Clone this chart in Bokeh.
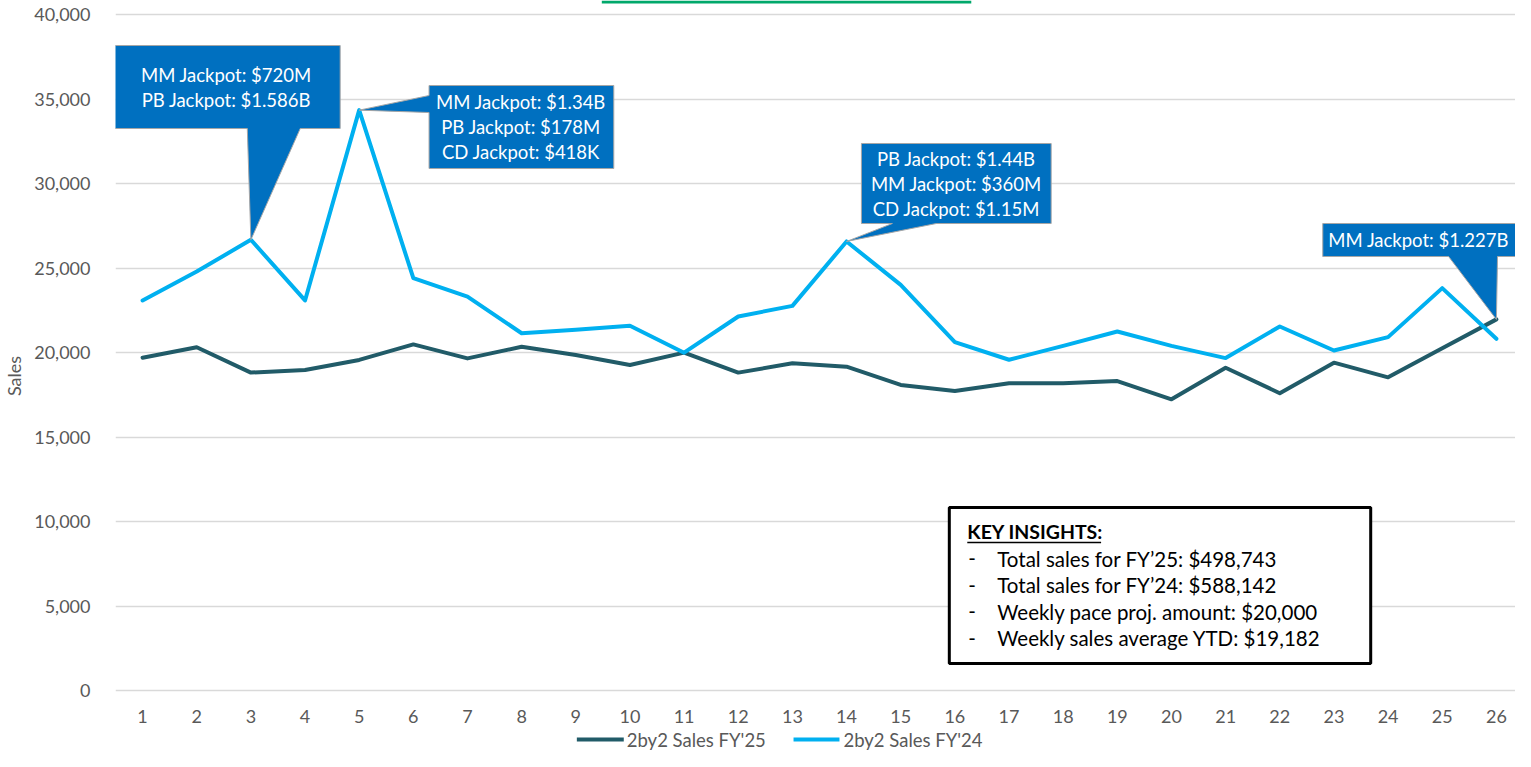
from bokeh.plotting import figure
from bokeh.models import Range1d, FixedTicker, NumeralTickFormatter
from bokeh.embed import file_html
from bokeh.resources import INLINE
from bokeh.core.properties import value

# ---------------- data ----------------
weeks = list(range(1, 27))
sales_fy25 = [19690, 20310, 18810, 18960, 19560, 20480, 19650, 20340, 19850, 19260,
              19990, 18810, 19360, 19160, 18080, 17720, 18180, 18180, 18310, 17230,
              19100, 17590, 19400, 18530, 20250, 21960]
sales_fy24 = [23080, 24790, 26670, 23080, 34340, 24400, 23310, 21140, 21340, 21580,
              19990, 22130, 22760, 26570, 24000, 20610, 19570, 20390, 21240, 20390,
              19670, 21540, 20120, 20910, 23810, 20810]
series_names = ["2by2 Sales FY'25", "2by2 Sales FY'24"]
y_ticks = [0, 5000, 10000, 15000, 20000, 25000, 30000, 35000, 40000]
y_title = "Sales"

callout_weeks = [3, 5, 14, 26]
callout_series = ["fy24", "fy24", "fy24", "fy25"]
callout_texts = [
    ["MM Jackpot: $720M", "PB Jackpot: $1.586B"],
    ["MM Jackpot: $1.34B", "PB Jackpot: $178M", "CD Jackpot: $418K"],
    ["PB Jackpot: $1.44B", "MM Jackpot: $360M", "CD Jackpot: $1.15M"],
    ["MM Jackpot: $1.227B"],
]
insight_title = "KEY INSIGHTS:"
insight_lines = [
    "Total sales for FY\u201925: $498,743",
    "Total sales for FY\u201924: $588,142",
    "Weekly pace proj. amount: $20,000",
    "Weekly sales average YTD: $19,182",
]

# ---------------- layout helpers (figure pixels -> data) ----------------
W, H = 1515, 751
FRAME_LEFT_PX = 113
PX_PER_WEEK = 54.23
ZERO_PX = 690
PX_PER_UNIT = 0.0169


def X(px):
    return 0.5 + (px - FRAME_LEFT_PX) / PX_PER_WEEK


def Y(py):
    return (ZERO_PX - py) / PX_PER_UNIT


def PX(x):
    return FRAME_LEFT_PX + (x - 0.5) * PX_PER_WEEK


def PY(y):
    return ZERO_PX - y * PX_PER_UNIT


FONT = value("Lato")
GREY_TXT = "#595959"
DARK = "#215B68"
LIGHT = "#00B0F0"
CALLOUT = "#0070C0"

p = figure(width=W, height=H,
           x_range=Range1d(X(FRAME_LEFT_PX), X(W)), y_range=Range1d(Y(H), Y(0)),
           output_backend="svg", toolbar_location=None, x_axis_location=None,
           min_border_left=FRAME_LEFT_PX, min_border_right=0, min_border_top=0, min_border_bottom=0)
p.outline_line_color = None
p.background_fill_color = "white"
p.border_fill_color = "white"

ya = p.yaxis[0]
ya.ticker = FixedTicker(ticks=y_ticks)
ya.formatter = NumeralTickFormatter(format="0,0")
ya.major_tick_line_color = None
ya.minor_tick_line_color = None
ya.axis_line_color = None
ya.major_label_text_font = "Lato"
ya.major_label_text_font_size = "18px"
ya.major_label_text_color = GREY_TXT
ya.major_label_standoff = 19
ya.axis_label = y_title
ya.axis_label_text_font = "Lato"
ya.axis_label_text_font_size = "18px"
ya.axis_label_text_font_style = "normal"
ya.axis_label_text_color = GREY_TXT
ya.axis_label_standoff = 6

p.ygrid.ticker = FixedTicker(ticks=y_ticks)
p.ygrid.grid_line_color = "#D9D9D9"
p.ygrid.grid_line_width = 1.5
p.xgrid.visible = False

# green title-box edge at top
p.quad(left=[X(600)], right=[X(970)], top=[Y(0)], bottom=[Y(3)],
       fill_color="#00A86B", line_color=None)

# x category labels
p.text(x=weeks, y=[Y(716)] * len(weeks), text=[str(w) for w in weeks],
       text_align="center", text_baseline="middle", text_color=GREY_TXT,
       text_font=FONT, text_font_size="18px")

# series lines
p.line(weeks, sales_fy25, line_color=DARK, line_width=4, line_join="round", line_cap="round")
p.line(weeks, sales_fy24, line_color=LIGHT, line_width=4, line_join="round", line_cap="round")

# ---------------- callouts ----------------
# box (left, top, right, bottom) in px, wedge edge, wedge base span, text centre x
callout_boxes = [
    ((111, 45, 338, 128), "bottom", (245, 298), 224),
    ((427, 85, 612, 168), "left", (95, 112), 519),
    ((860, 143, 1050, 223), "bottom", (891, 935), 955),
    ((1322, 223, 1540, 256), "bottom", (1448, 1497), 1418),
]
xs, ys = [], []
tx, ty, tt = [], [], []
for (box, edge, span, cx), wk, ser, lines in zip(callout_boxes, callout_weeks, callout_series, callout_texts):
    l, t, r, b = box
    vals = sales_fy24 if ser == "fy24" else sales_fy25
    tipx, tipy = PX(wk), PY(vals[wk - 1])
    if edge == "bottom":
        pts = [(l, t), (r, t), (r, b), (span[1], b), (tipx, tipy), (span[0], b), (l, b)]
    else:
        pts = [(l, t), (r, t), (r, b), (l, b), (l, span[1]), (tipx, tipy), (l, span[0])]
    xs.append([X(a) for a, _ in pts])
    ys.append([Y(c) for _, c in pts])
    cy = (t + b) / 2
    n = len(lines)
    for i, s in enumerate(lines):
        tx.append(X(cx))
        ty.append(Y(cy + (i - (n - 1) / 2) * 25))
        tt.append(s)

p.patches(xs, ys, fill_color=CALLOUT, line_color="#A6A6A6", line_width=1)
p.text(x=tx, y=ty, text=tt, text_align="center", text_baseline="middle",
       text_color="white", text_font=FONT, text_font_size="18.5px")

# ---------------- key insights box ----------------
p.quad(left=[X(948)], right=[X(1370)], top=[Y(507)], bottom=[Y(663)],
       fill_color="white", line_color="black", line_width=3)
p.text(x=[X(966)], y=[Y(531)], text=[insight_title], text_align="left", text_baseline="middle",
       text_color="black", text_font=FONT, text_font_size="19.5px", text_font_style="bold")
p.segment(x0=[X(966)], y0=[Y(542)], x1=[X(1100)], y1=[Y(542)], line_color="black", line_width=1.5)
iy = [Y(558 + i * 26.5) for i in range(len(insight_lines))]
p.text(x=[X(967)] * len(insight_lines), y=iy, text=["-"] * len(insight_lines),
       text_align="left", text_baseline="middle", text_color="black",
       text_font=FONT, text_font_size="20.5px")
p.text(x=[X(996)] * len(insight_lines), y=iy, text=insight_lines,
       text_align="left", text_baseline="middle", text_color="black",
       text_font=FONT, text_font_size="20.5px")

# ---------------- legend ----------------
leg_y = Y(739)
p.segment(x0=[X(575), X(792)], y0=[leg_y, leg_y], x1=[X(622), X(838)], y1=[leg_y, leg_y],
          line_color=[DARK, LIGHT], line_width=4)
p.text(x=[X(625), X(842)], y=[leg_y, leg_y], text=series_names, text_align="left",
       text_baseline="middle", text_color=GREY_TXT, text_font=FONT, text_font_size="18.5px")

open("out.html", "w").write(file_html(p, INLINE))
